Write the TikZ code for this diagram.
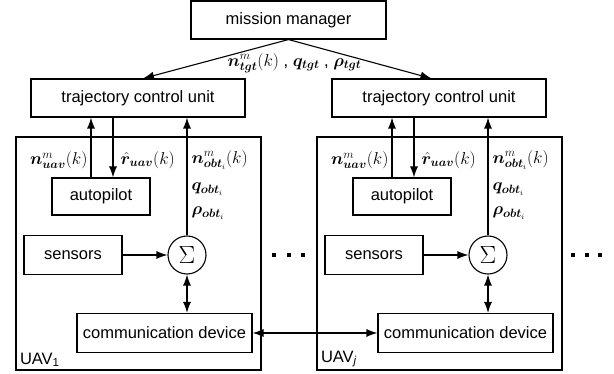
\documentclass[tikz,border=0pt]{standalone}
\usepackage{fontspec}
\setmainfont{Liberation Sans}
\usepackage{amsmath}
\usepackage{bm}
\usetikzlibrary{positioning}
\usetikzlibrary{calc}
\usetikzlibrary{arrows.meta}

\begin{document}
\begin{tikzpicture}
	[x=1pt,y=-1pt,line width=1.1pt,
	font=\fontsize{16.5}{19}\selectfont,
	unit/.style={draw=black,rectangle,minimum height=38pt,inner sep=0pt},
	sum/.style={draw=black,circle,minimum size=38pt,inner sep=0pt,font=\fontsize{24}{28}\selectfont},
	sig/.style={draw=black,-{Latex[length=11pt,width=8pt]}},
	both/.style={draw=black,{Latex[length=11pt,width=8pt]}-{Latex[length=11pt,width=8pt]}},
	symbol/.style={inner sep=0pt}]

	\useasboundingbox (0,0) rectangle (614,374);

	% Draw the mission manager
	\draw node at (288.5,20) [unit,minimum width=195pt](manager){mission manager};

	% Draw the two UAVs
	\foreach \x/\id/\num in {0/a/1,301/b/\textit{j}} {
		\draw node at (138.5+\x,253.5) [unit,minimum width=245pt,minimum height=233pt](uav\id){}
			node at (138+\x,98) [unit,minimum width=214pt](tcu\id){trajectory control unit}
			node at (101+\x,196.5) [unit,minimum width=98pt,minimum height=37pt](auto\id){autopilot}
			node at (73+\x,255) [unit,minimum width=98pt,minimum height=39pt](sens\id){sensors}
			node at (187+\x,255) [sum](sum\id){$\Sigma$}
			node at (164.5+\x,333) [unit,minimum width=175pt,minimum height=39pt](comm\id){communication device};

		\node[symbol,anchor=south west] at ($(uav\id.south west)+(4,-3)$) {UAV\textsubscript{\num}};

		% Draw the links inside the UAV
		\coordinate (up\id) at ($(auto\id.north)+(-10,0)$);
		\coordinate (dn\id) at ($(auto\id.north)+(12,0)$);
		\draw[sig] (up\id) -- (up\id |- tcu\id.south);
		\draw[sig] (dn\id |- tcu\id.south) -- (dn\id);
		\draw[sig] (sum\id.north) -- (sum\id.north |- tcu\id.south);
		\draw[sig] (sens\id) -- (sum\id);
		\draw[both] (sum\id.south) -- (sum\id.south |- comm\id.north);

		\node[symbol,anchor=east] at (88+\x,160) {$\bm{n}^{m}_{\bm{uav}}(k)$};
		\node[symbol,anchor=west] at (120+\x,160) {$\bm{\hat{r}}_{\bm{uav}}(k)$};
		\node[symbol,anchor=west] at (191+\x,160) {$\bm{n}^{m}_{\bm{obt}_i}(k)$};
		\node[symbol,anchor=west] at (191+\x,189) {$\bm{q}_{\bm{obt}_i}$};
		\node[symbol,anchor=west] at (191+\x,213) {$\bm{\rho}_{\bm{obt}_i}$};
	}

	% Draw the links between the units
	\draw[sig] (manager.south) -- ($(tcua.north)+(5,0)$);
	\draw[sig] (manager.south) -- ($(tcub.north)+(-7.5,0)$);
	\draw[both] (comma.east) -- (commb.west);

	\node[symbol] at (294.5,63) {$\bm{n}^{m}_{\bm{tgt}}(k)$ , $\bm{q}_{\bm{tgt}}$ , $\bm{\rho}_{\bm{tgt}}$};

	% Draw the dots for more UAVs
	\foreach \d in {274,289,303,573,587,600}
		\fill (\d-1.8,253.5) rectangle (\d+1.8,257.5);
\end{tikzpicture}
\end{document}
